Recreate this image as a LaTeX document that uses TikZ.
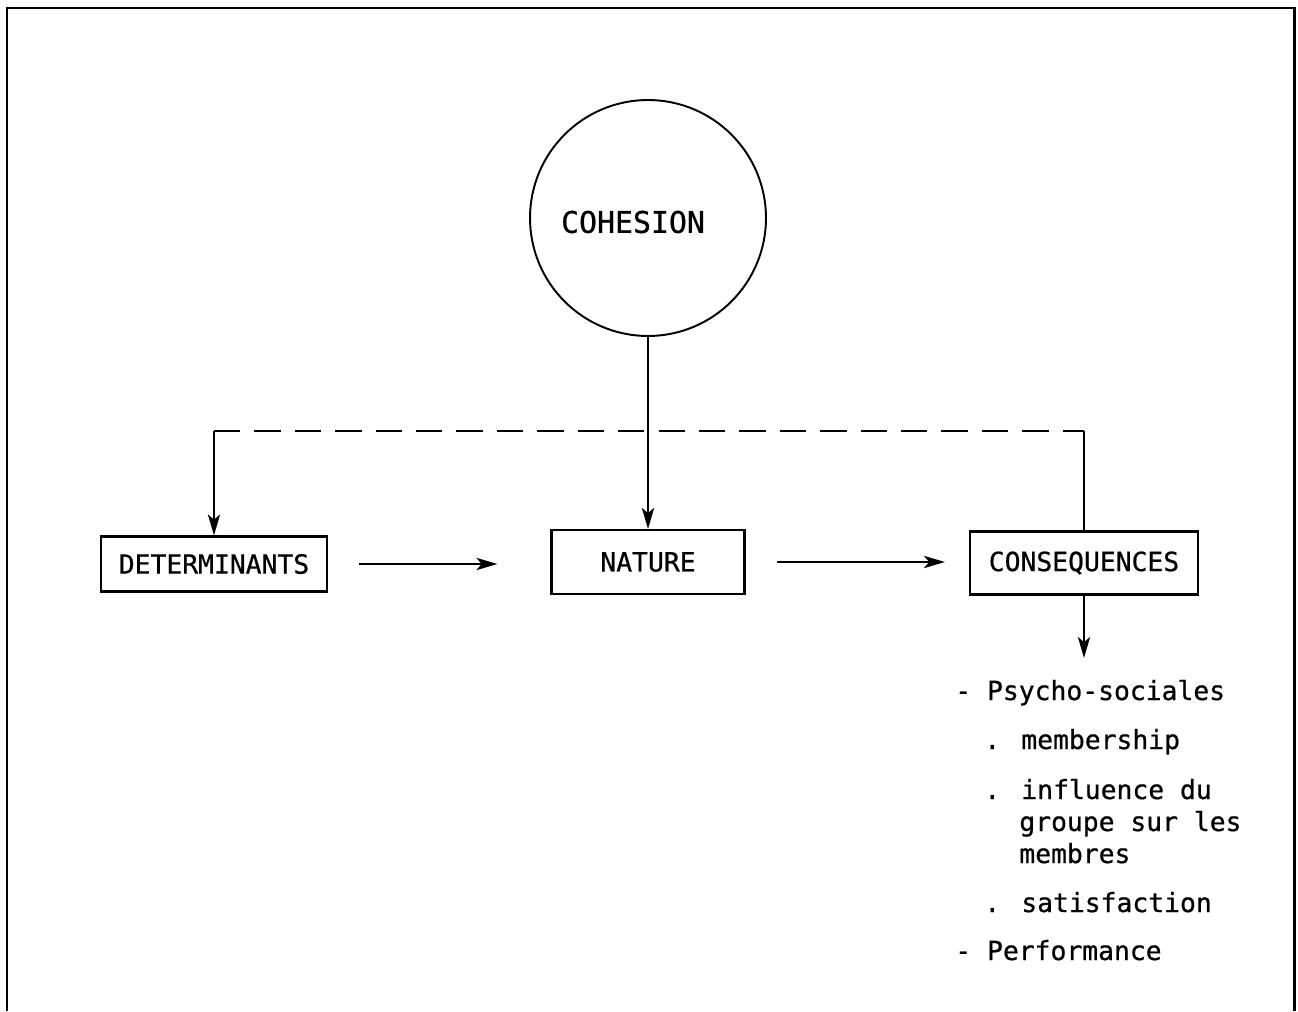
\documentclass[tikz,border=0pt]{standalone}
\usepackage{fontspec}
\newfontfamily\mono[FakeBold=0.7]{DejaVu Sans Mono}
\usetikzlibrary{arrows.meta}
\begin{document}
\begin{tikzpicture}[x=0.02cm,y=-0.02cm,
  every node/.style={font=\mono\fontsize{15}{18}\selectfont},
  box/.style={draw,line width=1.2pt,inner sep=0pt},
  conn/.style={line width=0.9pt},
  tip/.style={conn,-{Stealth[length=12pt,width=7pt,inset=3pt]}},
  item/.style={anchor=base west,inner sep=0pt}]
\useasboundingbox (0,0) rectangle (1298,1011);
% open frame
\draw[line width=1.7pt] (7,1011) -- (7,8) -- (1294,8) -- (1294,1011);

% central concept
\node[draw,circle,line width=1.1pt,minimum size=4.72cm] (coh) at (648,218) {};
\node[font=\mono\fontsize{17}{20}\selectfont] (cohtxt) at (633,222) {COHESION};

% the three boxes
\node[box,minimum width=4.52cm,minimum height=1.1cm] (det) at (214,564) {DETERMINANTS};
\node[box,minimum width=3.86cm,minimum height=1.28cm] (nat) at (648,562) {NATURE};
\node[box,minimum width=4.56cm,minimum height=1.26cm] (cons) at (1084,563) {CONSEQUENCES};

% feedback link
\coordinate (dl) at (214,431);
\coordinate (dr) at (1084,431);
\draw[conn,dash pattern=on 15pt off 8pt] (dl) -- (dr);
\draw[conn] (cons.north) -- (dr);
\draw[tip] (dl) -- (det.north);
\draw[tip] (coh.south) -- (nat.north);

% main chain
\draw[tip,shorten <=0.62cm,shorten >=1.06cm] (det.east) -- (det.east -| nat.west);
\draw[tip,shorten <=0.62cm,shorten >=0.48cm] (nat.east) -- (nat.east -| cons.west);
\coordinate (low) at (1084,658);
\draw[tip] (cons.south) -- (low);

% list of consequences
\node[item] (l1) at (955,700) {- Psycho-sociales};
\node[item] (l2) at (984,749) {. membership};
\node[item] (l3) at (984,799) {. influence du};
\node[item] (l4) at (1019,831) {groupe sur les};
\node[item] (l5) at (1019,863) {membres};
\node[item] (l6) at (984,912) {. satisfaction};
\node[item] (l7) at (955,960) {- Performance};
\end{tikzpicture}
\end{document}
